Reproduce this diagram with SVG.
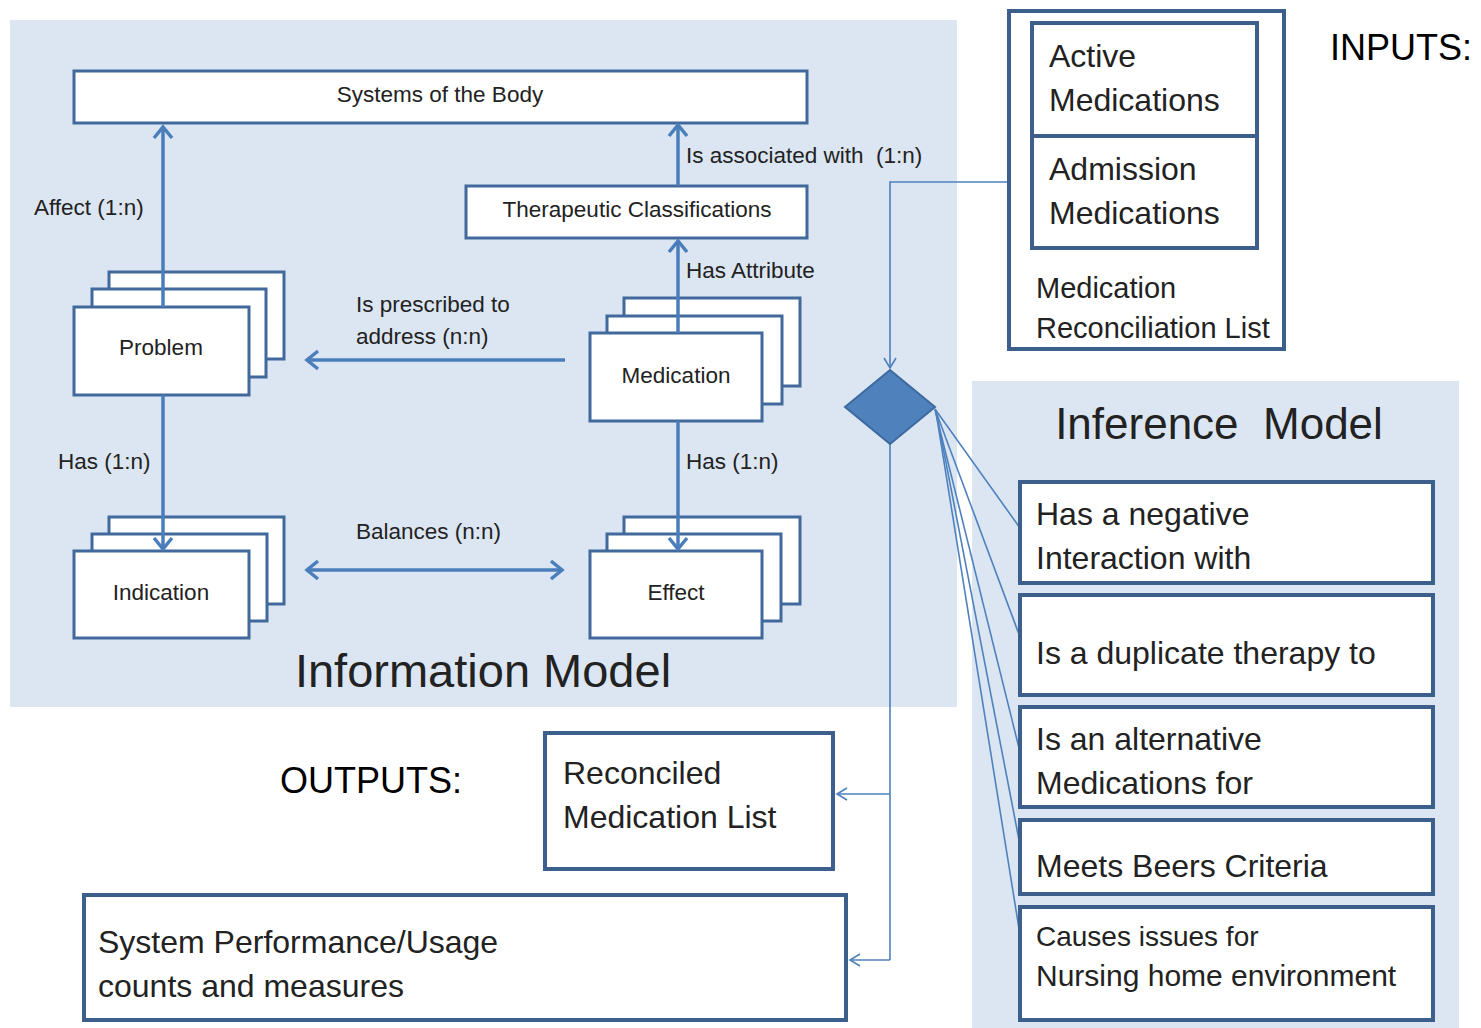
<svg xmlns="http://www.w3.org/2000/svg" width="1481" height="1028" viewBox="0 0 1481 1028">
<style>
.panel{fill:#dce6f2;stroke:none}
.nb{fill:#ffffff;stroke:#41699b;stroke-width:3}
.ob{fill:#ffffff;stroke:#3d5f8c;stroke-width:4}
.t{font-family:"Liberation Sans",Arial,sans-serif;fill:#222222}
.s{font-size:22.5px}
.m{font-size:32px}
.c{text-anchor:middle}
.big{font-size:47px}
.io{font-family:"Liberation Sans",Arial,sans-serif;font-size:36px;fill:#000000}
.thick{stroke:#4a7ebb;stroke-width:3.5;fill:none}
.thin{stroke:#4f81bd;stroke-width:1.6;fill:none}
</style>
<defs>
<marker id="ah" markerUnits="userSpaceOnUse" viewBox="-20 -15 30 30" markerWidth="30" markerHeight="30" refX="0" refY="0" orient="auto-start-reverse" overflow="visible">
<path d="M-11,-9 L0,0 L-11,9" fill="none" stroke="#4a7ebb" stroke-width="3.5"/>
</marker>
<marker id="at" markerUnits="userSpaceOnUse" viewBox="-20 -15 30 30" markerWidth="30" markerHeight="30" refX="0" refY="0" orient="auto" overflow="visible">
<path d="M-10,-6 L0,0 L-10,6" fill="none" stroke="#4f81bd" stroke-width="1.6"/>
</marker>
</defs>

<rect class="panel" x="10" y="20" width="947" height="687"/>
<rect class="panel" x="972" y="381" width="487" height="647"/>

<g id="systems">
<rect class="nb" x="74" y="71" width="733" height="52"/>
<text class="t s c" x="440" y="102">Systems of the Body</text>
</g>
<g id="therapeutic">
<rect class="nb" x="466" y="186" width="341" height="52"/>
<text class="t s c" x="637" y="217">Therapeutic Classifications</text>
</g>
<g id="problem">
<rect class="nb" x="109" y="272" width="175" height="87"/>
<rect class="nb" x="92" y="289" width="174" height="88"/>
<rect class="nb" x="74" y="307" width="175" height="88"/>
<text class="t s c" x="161" y="355">Problem</text>
</g>
<g id="medication">
<rect class="nb" x="624" y="298" width="176" height="88"/>
<rect class="nb" x="607" y="316" width="175" height="88"/>
<rect class="nb" x="590" y="333" width="172" height="88"/>
<text class="t s c" x="676" y="383">Medication</text>
</g>
<g id="indication">
<rect class="nb" x="109" y="517" width="175" height="87"/>
<rect class="nb" x="92" y="534" width="175" height="87"/>
<rect class="nb" x="74" y="551" width="175" height="87"/>
<text class="t s c" x="161" y="600">Indication</text>
</g>
<g id="effect">
<rect class="nb" x="624" y="517" width="176" height="87"/>
<rect class="nb" x="607" y="534" width="174" height="87"/>
<rect class="nb" x="590" y="551" width="172" height="87"/>
<text class="t s c" x="676" y="600">Effect</text>
</g>

<g id="connectors">
<line class="thick" x1="163" y1="307" x2="163" y2="127" marker-end="url(#ah)"/>
<line class="thick" x1="678" y1="186" x2="678" y2="125" marker-end="url(#ah)"/>
<line class="thick" x1="678" y1="333" x2="678" y2="241" marker-end="url(#ah)"/>
<line class="thick" x1="565" y1="360" x2="307" y2="360" marker-end="url(#ah)"/>
<line class="thick" x1="163" y1="395" x2="163" y2="549" marker-end="url(#ah)"/>
<line class="thick" x1="678" y1="421" x2="678" y2="549" marker-end="url(#ah)"/>
<line class="thick" x1="307" y1="570" x2="562" y2="570" marker-start="url(#ah)" marker-end="url(#ah)"/>
<polyline class="thin" points="1009,182 890,182 890,368" marker-end="url(#at)"/>
<line class="thin" x1="890" y1="444" x2="890" y2="960"/>
<line class="thin" x1="890" y1="794" x2="837" y2="794" marker-end="url(#at)"/>
<line class="thin" x1="890" y1="960" x2="850" y2="960" marker-end="url(#at)"/>
<line class="thin" x1="935" y1="409" x2="1020" y2="528"/>
<line class="thin" x1="935" y1="409" x2="1020" y2="637"/>
<line class="thin" x1="935" y1="410" x2="1020" y2="752"/>
<line class="thin" x1="936" y1="411" x2="1020" y2="845"/>
<line class="thin" x1="936" y1="412" x2="1020" y2="935"/>
</g>

<g id="labels">
<text class="t s" x="34" y="215">Affect (1:n)</text>
<text class="t s" x="686" y="163" style="white-space:pre">Is associated with  (1:n)</text>
<text class="t s" x="686" y="278">Has Attribute</text>
<text class="t s" x="356" y="312">Is prescribed to</text>
<text class="t s" x="356" y="344">address (n:n)</text>
<text class="t s" x="58" y="469">Has (1:n)</text>
<text class="t s" x="686" y="469">Has (1:n)</text>
<text class="t s" x="356" y="539">Balances (n:n)</text>
<text class="t big c" x="483" y="687">Information Model</text>
</g>

<g id="decision">
<polygon points="890,370 935,407 890,444 845,407" fill="#4f81bd" stroke="#3d6a9e" stroke-width="2"/>
</g>

<g id="inputs">
<rect class="ob" x="1009" y="11" width="275" height="338"/>
<rect class="ob" x="1032" y="23" width="225" height="225"/>
<line x1="1032" y1="136" x2="1257" y2="136" stroke="#3d5f8c" stroke-width="4"/>
<text class="t m" x="1049" y="67">Active</text>
<text class="t m" x="1049" y="111">Medications</text>
<text class="t m" x="1049" y="180">Admission</text>
<text class="t m" x="1049" y="224">Medications</text>
<text class="t" style="font-size:29px" x="1036" y="298">Medication</text>
<text class="t" style="font-size:29px" x="1036" y="338">Reconciliation List</text>
</g>
<text class="io" x="1330" y="60">INPUTS:</text>

<text class="t c" style="font-size:44px" x="1219" y="439" xml:space="preserve">Inference  Model</text>
<g id="inf1">
<rect class="ob" x="1020" y="482" width="413" height="101"/>
<text class="t m" x="1036" y="525">Has a negative</text>
<text class="t m" x="1036" y="569">Interaction with</text>
</g>
<g id="inf2">
<rect class="ob" x="1020" y="595" width="413" height="100"/>
<text class="t m" x="1036" y="664">Is a duplicate therapy to</text>
</g>
<g id="inf3">
<rect class="ob" x="1020" y="707" width="413" height="100"/>
<text class="t m" x="1036" y="750">Is an alternative</text>
<text class="t m" x="1036" y="794">Medications for</text>
</g>
<g id="inf4">
<rect class="ob" x="1020" y="820" width="413" height="74"/>
<text class="t m" x="1036" y="877">Meets Beers Criteria</text>
</g>
<g id="inf5">
<rect class="ob" x="1020" y="907" width="413" height="113"/>
<text class="t" style="font-size:28px" x="1036" y="946">Causes issues for</text>
<text class="t" style="font-size:30px" x="1036" y="986">Nursing home environment</text>
</g>

<text class="io" x="280" y="793">OUTPUTS:</text>
<g id="reconciled">
<rect class="ob" x="545" y="733" width="288" height="136"/>
<text class="t m" x="563" y="784">Reconciled</text>
<text class="t m" x="563" y="828">Medication List</text>
</g>
<g id="performance">
<rect class="ob" x="84" y="895" width="762" height="125"/>
<text class="t m" x="98" y="953">System Performance/Usage</text>
<text class="t m" x="98" y="997">counts and measures</text>
</g>
</svg>
